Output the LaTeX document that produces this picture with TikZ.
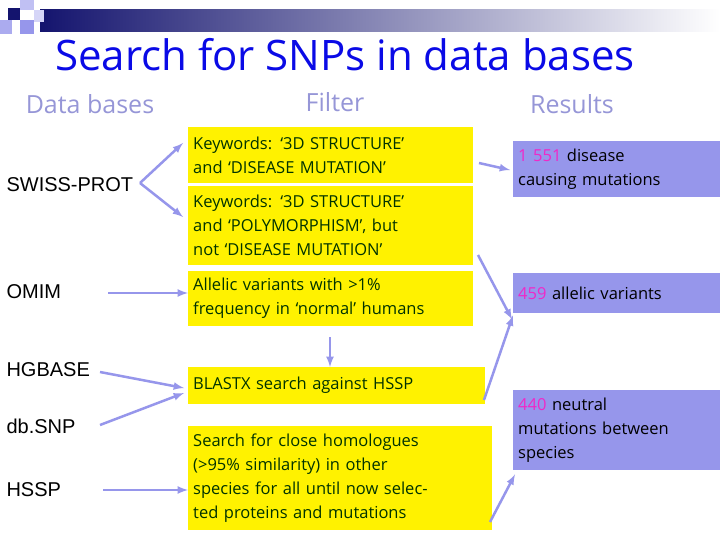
\documentclass[tikz,border=0pt]{standalone}
\usepackage{fontspec}
\setmainfont{Open Sans}
\newfontfamily\labfont{Liberation Sans}
\usetikzlibrary{positioning}
\definecolor{navy}{RGB}{20,20,110}
\definecolor{lav}{RGB}{150,150,235}
\definecolor{lavtext}{RGB}{150,150,215}
\definecolor{titleblue}{RGB}{10,10,230}
\definecolor{pink}{RGB}{240,40,200}
\tikzset{
  filterbox/.style={fill=yellow,anchor=north west,align=left,inner sep=5pt,font=\fontsize{16.5}{24}\selectfont,text=black!80!green},
  resbox/.style={fill=lav,anchor=north west,align=left,inner sep=5pt,font=\fontsize{16.5}{24}\selectfont,text=black},
  dbase/.style={anchor=west,font=\labfont\fontsize{20}{24}\selectfont},
  head/.style={font=\fontsize{25}{30}\selectfont,text=lavtext},
  link/.style={draw=lav,line width=2.5pt,-latex}
}
\begin{document}
\begin{tikzpicture}[x=1pt,y=-1pt]
    \useasboundingbox (0,0) rectangle (720,540);

    % banner
    \shade[left color=navy,right color=white] (40,10) rectangle (720,32);
    \fill[navy] (8,8) rectangle (20,20);
    \fill[lav!60] (20,0) rectangle (34,10);
    \fill[lav!80] (0,20) rectangle (12,34);
    \fill[lav] (20,20) rectangle (34,34);
    \fill[lav!40] (34,10) rectangle (44,22);

    \node[font=\fontsize{42}{48}\selectfont,text=titleblue] (title) at (345,55) {Search for SNPs in data bases};
    \node[head] (hdb) at (90,104) {Data bases};
    \node[head] (hfilter) at (335,102) {Filter};
    \node[head] (hres) at (572,104) {Results};

    % filters
    \node[filterbox,text width=275pt,minimum height=56pt] (kw1) at (188,127) {Keywords: `3D STRUCTURE'\\and `DISEASE MUTATION'};
    \node[filterbox,text width=275pt,minimum height=79pt] (kw2) at (188,186) {Keywords: `3D STRUCTURE'\\and `POLYMORPHISM', but\\not `DISEASE MUTATION'};
    \node[filterbox,text width=275pt,minimum height=55pt] (allel) at (188,271) {Allelic variants with >1\%\\frequency in `normal' humans};
    \node[filterbox,text width=287pt,minimum height=37pt] (blast) at (188,367) {BLASTX search against HSSP};
    \node[filterbox,text width=294pt,minimum height=104pt] (homol) at (188,426) {Search for close homologues\\(>95\% similarity) in other\\species for all until now selec-\\ted proteins and mutations};

    % results
    \node[resbox,text width=197pt,minimum height=56pt] (disease) at (513,141) {\textcolor{pink}{1 551} disease\\causing mutations};
    \node[resbox,text width=197pt,minimum height=40pt] (variants) at (513,273) {\textcolor{pink}{459} allelic variants};
    \node[resbox,text width=197pt,minimum height=80pt] (neutral) at (513,390) {\textcolor{pink}{440} neutral\\mutations between\\species};

    % data bases
    \node[dbase] (swiss) at (3,185) {SWISS-PROT};
    \node[dbase] (omim) at (3,292) {OMIM};
    \node[dbase] (hgbase) at (3,370) {HGBASE};
    \node[dbase] (dbsnp) at (3,426) {db.SNP};
    \node[dbase] (hssp) at (3,490) {HSSP};

    \coordinate (top) at (330,337);
    \coordinate (sw) at (140,183);
    \coordinate (om) at (108,293);
    \coordinate (hg) at (100,372);
    \coordinate (db) at (100,425);
    \coordinate (hs) at (103,490);

    \draw[link] (sw) -- (183,143);
    \draw[link] (sw) -- (183,217);
    \draw[link] (om) -- (om -| allel.west);
    \draw[link] (hg) -- (184,388);
    \draw[link] (db) -- (184,393);
    \draw[link] (hs) -- (hs -| homol.west);
    \draw[link] (top) -- (blast.north -| top);
    \draw[link] (479,163) -- (510,170);
    \draw[link] (478,255) -- ([xshift=-1pt,yshift=-6pt]variants.south west);
    \draw[link] (484,400) -- ([yshift=-2pt]variants.south west);
    \draw[link] (490,522) -- ([xshift=2pt,yshift=-4pt]neutral.south west);
  \end{tikzpicture}
\end{document}
